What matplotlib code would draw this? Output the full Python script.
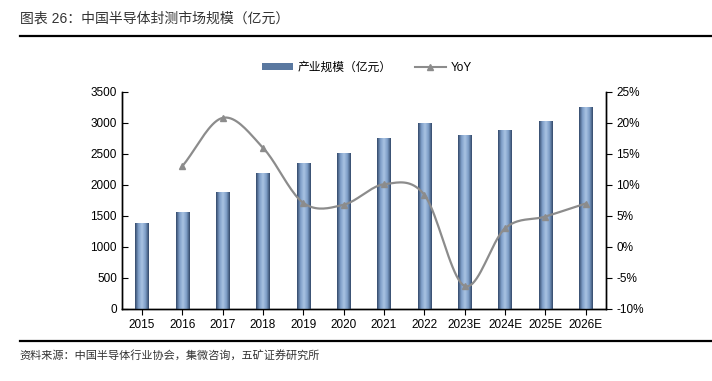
import matplotlib

matplotlib.use("Agg")
import matplotlib.pyplot as plt
import numpy as np
from matplotlib.colors import LinearSegmentedColormap
from matplotlib.lines import Line2D
from matplotlib.patches import Patch
from matplotlib.ticker import FuncFormatter

plt.rcParams["font.family"] = ["Liberation Sans", "Noto Sans CJK SC", "DejaVu Sans"]
plt.rcParams["axes.unicode_minus"] = False

years = ["2015", "2016", "2017", "2018", "2019", "2020", "2021", "2022",
         "2023E", "2024E", "2025E", "2026E"]
scale = [1380, 1560, 1890, 2194, 2350, 2510, 2763, 2996, 2807, 2890, 3030, 3248]
yoy_years = years[1:]
yoy = [13.0, 20.8, 16.0, 7.1, 6.8, 10.1, 8.4, -6.3, 3.0, 4.9, 7.0]


def smooth(xs, ys, n=20):
    # Catmull-Rom through the points, similar to Excel's smoothed line
    xs = np.asarray(xs, float)
    ys = np.asarray(ys, float)
    px = np.concatenate([[2 * xs[0] - xs[1]], xs, [2 * xs[-1] - xs[-2]]])
    py = np.concatenate([[2 * ys[0] - ys[1]], ys, [2 * ys[-1] - ys[-2]]])
    ox, oy = [], []
    for i in range(1, len(px) - 2):
        t = np.linspace(0, 1, n, endpoint=False)
        for p, out in ((px, ox), (py, oy)):
            p0, p1, p2, p3 = p[i - 1], p[i], p[i + 1], p[i + 2]
            out.extend(0.5 * (2 * p1 + (-p0 + p2) * t
                              + (2 * p0 - 5 * p1 + 4 * p2 - p3) * t ** 2
                              + (-p0 + 3 * p1 - 3 * p2 + p3) * t ** 3))
    ox.append(xs[-1])
    oy.append(ys[-1])
    return np.array(ox), np.array(oy)


fig = plt.figure(figsize=(7.12, 3.81), dpi=100)
ax = fig.add_axes([0.171, 0.189, 0.680, 0.570])
ax2 = ax.twinx()

x = np.arange(len(years))
bars = ax.bar(x, scale, width=0.33, color="#6f8fb8", zorder=2)

# horizontal gradient inside each bar (dark edges, light centre)
cmap = LinearSegmentedColormap.from_list(
    "barg", ["#33496a", "#7f9fc8", "#a9c3e3", "#7f9fc8", "#33496a"])
grad = np.linspace(0, 1, 100).reshape(1, -1)
for b in bars:
    x0, w, h = b.get_x(), b.get_width(), b.get_height()
    im = ax.imshow(grad, cmap=cmap, aspect="auto", extent=(x0, x0 + w, 0, h), zorder=3)
    im.set_clip_path(b)

ax.set_xlim(-0.5, len(years) - 0.5)
ax.set_ylim(0, 3500)
ax.set_yticks(range(0, 3501, 500))
ax.set_xticks(x)
ax.set_xticklabels(years)
ax.tick_params(axis="both", labelsize=8.5, color="black", length=4)
ax.tick_params(axis="y", direction="in")
ax.tick_params(axis="x", direction="out", pad=3)

yx = np.arange(1, len(years))
sx, sy = smooth(yx, yoy)
ax2.plot(sx, sy, color="#8c8c8c", lw=1.6, zorder=4)
ax2.plot(yx, yoy, ls="none", marker="^", ms=5, color="#8c8c8c", zorder=5)
ax2.set_ylim(-10, 25)
ax2.set_yticks(range(-10, 26, 5))
ax2.yaxis.set_major_formatter(FuncFormatter(lambda v, p: f"{v:.0f}%"))
ax2.tick_params(axis="y", labelsize=8.5, direction="out", length=4)

for a in (ax, ax2):
    a.spines["top"].set_visible(False)
    for s in ("left", "right", "bottom"):
        a.spines[s].set_color("black")
        a.spines[s].set_linewidth(1.0)

handles = [Patch(facecolor="#5a78a0", edgecolor="none"),
           Line2D([0], [0], color="#8c8c8c", lw=1.5, marker="^", ms=5)]
fig.legend(handles, ["产业规模（亿元）", "YoY"], loc="center",
           bbox_to_anchor=(0.515, 0.822), ncol=2, frameon=False, fontsize=8.5,
           handlelength=2.6, handleheight=0.5, columnspacing=2.0, handletextpad=0.4)

fig.text(0.028, 0.952, "图表 26：中国半导体封测市场规模（亿元）", fontsize=10,
         color="#333333", va="center")
fig.add_artist(Line2D([0.028, 1.0], [0.905, 0.905], color="black", lw=1.6))
fig.add_artist(Line2D([0.028, 1.0], [0.105, 0.105], color="black", lw=1.6))
fig.text(0.028, 0.068, "资料来源：中国半导体行业协会，集微咨询，五矿证券研究所", fontsize=8,
         color="#333333", va="center")

fig.savefig("out.png", dpi=100)
